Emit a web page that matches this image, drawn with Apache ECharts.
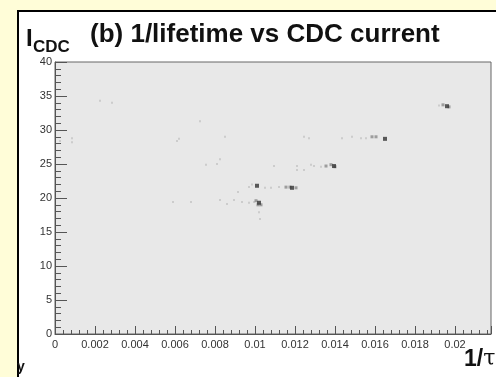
<!DOCTYPE html>
<html>
<head>
<meta charset="utf-8">
<script src="https://cdn.jsdelivr.net/npm/echarts@6/dist/echarts.min.js"></script>
<style>
  html, body { margin: 0; padding: 0; background: #FFFDD8; }
  #chart { width: 496px; height: 377px; }
</style>
</head>
<body>
<div id="chart"></div>
<script>
// 1/tau vs CDC current
const xTicks = [0, 0.002, 0.004, 0.006, 0.008, 0.01, 0.012, 0.014, 0.016, 0.018, 0.02];
const yTicks = [0, 5, 10, 15, 20, 25, 30, 35, 40];

// faint single entries [1/tau, I_CDC]
const faintPoints = [
  [0.00225, 34.3], [0.00285, 34.0], [0.00085, 28.8], [0.00085, 28.2], [0.00025, 28.4],
  [0.0061, 28.4], [0.0062, 28.7], [0.00725, 31.3], [0.0085, 29.0],
  [0.00755, 24.9], [0.0081, 25.0], [0.00825, 25.7],
  [0.0059, 19.4], [0.0068, 19.4], [0.00825, 19.7], [0.0086, 19.1], [0.00895, 19.7],
  [0.00915, 20.9], [0.00935, 19.4], [0.0097, 19.3], [0.00995, 19.4],
  [0.0102, 17.9], [0.01025, 16.9],
  [0.0097, 21.6], [0.00985, 22.0], [0.0105, 21.5], [0.0108, 21.5], [0.0112, 21.6],
  [0.01095, 24.7], [0.0121, 24.7], [0.0121, 24.1], [0.01245, 24.1], [0.0128, 24.9],
  [0.01295, 24.7], [0.0133, 24.6],
  [0.01245, 29.0], [0.0127, 28.8], [0.01435, 28.8], [0.01485, 29.0], [0.0153, 28.8],
  [0.01555, 28.8], [0.0192, 33.6]
];
// medium density bins
const midPoints = [
  [0.01155, 21.6], [0.01175, 21.6], [0.01205, 21.5],
  [0.01355, 24.7], [0.0138, 24.9], [0.014, 24.6],
  [0.01585, 29.0], [0.01605, 29.0],
  [0.01005, 19.6], [0.0103, 19.0], [0.01015, 19.0],
  [0.0194, 33.7], [0.0197, 33.4]
];
// densest bins
const darkPoints = [
  [0.0102, 19.3], [0.0101, 21.8], [0.01185, 21.5],
  [0.01395, 24.7], [0.0165, 28.7], [0.0196, 33.5]
];

const chart = echarts.init(document.getElementById("chart"));

const fmtX = (v) => {
  const hit = xTicks.find((t) => Math.abs(t - v) < 1e-9);
  return hit === undefined ? "" : String(+hit.toFixed(4));
};
const fmtY = (v) => (yTicks.includes(Math.round(v)) && Math.abs(v - Math.round(v)) < 1e-9 ? String(Math.round(v)) : "");

chart.setOption({
  backgroundColor: "#FFFDD8",
  animation: false,
  graphic: [
    { type: "rect", z: -10, shape: { x: 19, y: 12, width: 477, height: 365 }, style: { fill: "#fff" } },
    { type: "line", z: -9, shape: { x1: 18, y1: 11, x2: 496, y2: 11 }, style: { stroke: "#000", lineWidth: 2 } },
    { type: "line", z: -9, shape: { x1: 18, y1: 10, x2: 18, y2: 377 }, style: { stroke: "#000", lineWidth: 2 } },
    { type: "text", left: 90, top: 22, style: { text: "(b) 1/lifetime vs CDC current", font: "bold 26px 'Liberation Sans', Arial, sans-serif", fill: "#111" } },
    { type: "text", left: 26, top: 27, style: { text: "I", font: "bold 24px 'Liberation Sans', Arial, sans-serif", fill: "#111" } },
    { type: "text", left: 33, top: 39, style: { text: "CDC", font: "bold 17px 'Liberation Sans', Arial, sans-serif", fill: "#111" } },
    { type: "text", left: 464, top: 348, style: {
        text: "{a|1/}{b|τ}",
        rich: {
          a: { font: "bold 23px 'Liberation Sans', Arial, sans-serif", fill: "#111" },
          b: { font: "22px 'DejaVu Serif', serif", fill: "#111" }
        }
    } },
    { type: "text", left: 17, top: 360, style: { text: "y", font: "bold 14px 'Liberation Sans', Arial, sans-serif", fill: "#111" } }
  ],
  grid: {
    left: 55, top: 62, right: 5, bottom: 43,
    show: true, backgroundColor: "#E8E8E8", borderColor: "#666", borderWidth: 1
  },
  xAxis: {
    type: "value", min: 0, max: 0.0218, interval: 0.002,
    axisLine: { lineStyle: { color: "#555" } },
    axisTick: { inside: true, length: 8, lineStyle: { color: "#555" } },
    minorTick: { show: true, splitNumber: 5, length: 4, lineStyle: { color: "#555" } },
    splitLine: { show: false },
    axisLabel: { formatter: fmtX, fontSize: 11, color: "#333", margin: 5, showMaxLabel: false,
      fontFamily: "'Liberation Sans', Arial, sans-serif" }
  },
  yAxis: {
    type: "value", min: 0, max: 40, interval: 5,
    axisLine: { show: true, lineStyle: { color: "#555" } },
    axisTick: { show: true, inside: true, length: 12, lineStyle: { color: "#555" } },
    minorTick: { show: true, splitNumber: 5, length: 6, lineStyle: { color: "#555" } },
    splitLine: { show: false },
    axisLabel: { formatter: fmtY, fontSize: 11, color: "#333", margin: 3,
      fontFamily: "'Liberation Sans', Arial, sans-serif" }
  },
  series: [
    { type: "scatter", data: faintPoints, symbol: "rect", symbolSize: 2, itemStyle: { color: "#C4C4C4" } },
    { type: "scatter", data: midPoints, symbol: "rect", symbolSize: 3, itemStyle: { color: "#8A8A8A" } },
    { type: "scatter", data: darkPoints, symbol: "rect", symbolSize: 4, itemStyle: { color: "#333" } }
  ]
});
</script>
</body>
</html>
